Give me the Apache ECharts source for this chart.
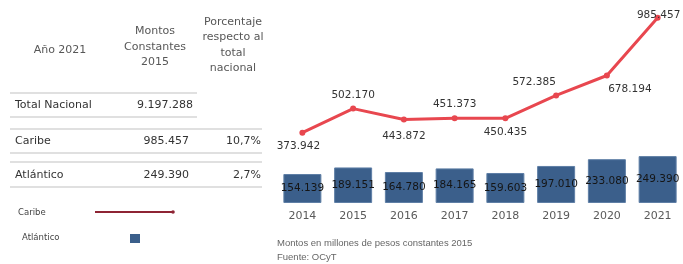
<!DOCTYPE html>
<html>
<head>
<meta charset="utf-8">
<script src="https://cdn.jsdelivr.net/npm/echarts@6/dist/echarts.min.js"></script>
<style>
  html, body { margin: 0; padding: 0; background: #fff; }
  #chart { width: 683px; height: 264px; }
</style>
</head>
<body>
<div id="chart"></div>
<script>
// data
var years = ["2014", "2015", "2016", "2017", "2018", "2019", "2020", "2021"];
var caribe = [373942, 502170, 443872, 451373, 450435, 572385, 678194, 985457];
var atlantico = [154139, 189151, 164780, 184165, 159603, 197010, 233080, 249390];

// table on the left
var rowNames = ["Total Nacional", "Caribe", "Atlántico"];
var rowMontos = ["9.197.288", "985.457", "249.390"];
var rowPct = ["", "10,7%", "2,7%"];

// where each line label sits relative to its point
var lineLabelPos = ["bottom", "top", "bottom", "top", "bottom", "top", "bottom", "top"];
var lineLabelOffset = [[-4, 0], [0, 0], [0, 3], [0, 0], [0, 0], [-22, 0], [23, 0], [1, 11]];

function fmt(v) {
  return String(v).replace(/\B(?=(\d{3})+(?!\d))/g, ".");
}

var FONT = "DejaVu Sans";

// table graphics
var graphic = [];
var rowY = [105, 141, 175];
var lines = [
  [10, 93, 197], [10, 117, 197],
  [10, 129, 262], [10, 153, 262],
  [10, 162, 262], [10, 187, 262]
];
lines.forEach(function (l) {
  graphic.push({
    type: "line", shape: { x1: l[0], y1: l[1], x2: l[2], y2: l[1] },
    style: { stroke: "#d6d6d6", lineWidth: 1.5 }
  });
});
graphic.push({
  type: "text", x: 60, y: 50,
  style: { text: "Año 2021", font: "11px " + FONT, fill: "#575757", align: "center", verticalAlign: "middle" }
});
graphic.push({
  type: "text", x: 155, y: 47,
  style: { text: "Montos\nConstantes\n2015", font: "11px " + FONT, fill: "#575757",
    align: "center", verticalAlign: "middle", lineHeight: 15.5 }
});
graphic.push({
  type: "text", x: 233, y: 45,
  style: { text: "Porcentaje\nrespecto al\ntotal\nnacional", font: "11px " + FONT, fill: "#575757",
    align: "center", verticalAlign: "middle", lineHeight: 15.5 }
});
rowNames.forEach(function (name, i) {
  graphic.push({
    type: "text", x: 15, y: rowY[i],
    style: { text: name, font: "11px " + FONT, fill: "#333", verticalAlign: "middle" }
  });
  graphic.push({
    type: "text", x: i === 0 ? 193 : 189, y: rowY[i],
    style: { text: rowMontos[i], font: "11px " + FONT, fill: "#333", align: "right", verticalAlign: "middle" }
  });
  if (rowPct[i]) {
    graphic.push({
      type: "text", x: 261, y: rowY[i],
      style: { text: rowPct[i], font: "11px " + FONT, fill: "#333", align: "right", verticalAlign: "middle" }
    });
  }
});

// legend (drawn by hand, the swatches differ from the series look)
graphic.push(
  { type: "text", x: 18, y: 213, style: { text: "Caribe", font: "8.5px " + FONT, fill: "#444", verticalAlign: "middle" } },
  { type: "line", shape: { x1: 95, y1: 212, x2: 173, y2: 212 }, style: { stroke: "#8e2434", lineWidth: 2 } },
  { type: "circle", shape: { cx: 173, cy: 212, r: 1.8 }, style: { fill: "#8e2434" } },
  { type: "text", x: 22, y: 238, style: { text: "Atlántico", font: "8.5px " + FONT, fill: "#444", verticalAlign: "middle" } },
  { type: "rect", shape: { x: 130, y: 234, width: 10, height: 9 }, style: { fill: "#3b5f8b" } }
);

// footnotes
graphic.push(
  { type: "text", x: 277, y: 243, style: { text: "Montos en millones de pesos constantes 2015", font: "9.5px Liberation Sans", fill: "#666", verticalAlign: "middle" } },
  { type: "text", x: 277, y: 257, style: { text: "Fuente: OCyT", font: "9.5px Liberation Sans", fill: "#666", verticalAlign: "middle" } }
);

var chart = echarts.init(document.getElementById("chart"), null, { renderer: "canvas" });
chart.setOption({
  animation: false,
  graphic: graphic,
  grid: { left: 277, width: 407, top: 15, bottom: 61, containLabel: false },
  xAxis: {
    type: "category",
    data: years,
    axisLine: { show: false },
    axisTick: { show: false },
    axisLabel: { color: "#5a5a5a", fontFamily: FONT, fontSize: 11, margin: 8 }
  },
  yAxis: {
    type: "value", min: 0, max: 1000000, show: false,
    splitLine: { show: false }
  },
  series: [
    {
      name: "Atlántico",
      type: "bar",
      data: atlantico,
      barWidth: 38,
      itemStyle: { color: "#3b5f8b", borderColor: "#5f7fa6", borderWidth: 1 },
      label: {
        show: true, position: "inside", color: "#151515",
        fontFamily: FONT, fontSize: 10.5,
        formatter: function (p) { return fmt(p.value); }
      },
      z: 2
    },
    {
      name: "Caribe",
      type: "line",
      data: caribe.map(function (v, i) {
        return { value: v, label: { position: lineLabelPos[i], offset: lineLabelOffset[i] } };
      }),
      lineStyle: { color: "#e8474f", width: 3 },
      itemStyle: { color: "#e8474f" },
      symbol: "circle",
      symbolSize: 6,
      label: {
        show: true, color: "#333", fontFamily: FONT, fontSize: 10.5,
        formatter: function (p) { return fmt(p.value); }
      },
      z: 3
    }
  ]
});
</script>
</body>
</html>
